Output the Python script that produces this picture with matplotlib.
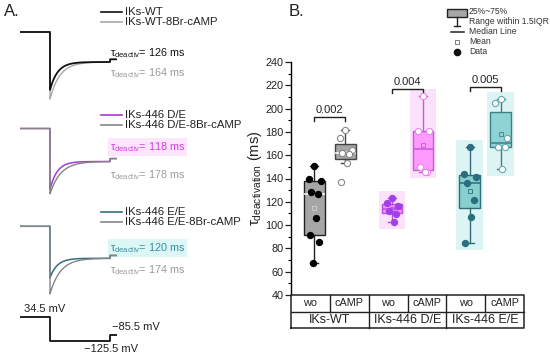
import numpy as np
import matplotlib.pyplot as plt
from matplotlib.patches import Rectangle

### Panel A: tail current traces (normalised), tau values
trace_names = ['IKs-WT', 'IKs-446 D/E', 'IKs-446 E/E']
tau_ctrl = [126, 118, 120]
tau_camp = [164, 178, 174]
peak_ctrl = [0.93, 0.85, 0.61]
peak_camp = [1.23, 0.98, 1.11]
v_steps = [34.5, -125.5, -85.5]
step_ms = [-500, 0, 1000, 1120]

### Panel B: tau deactivation (ms) per cell
groups = ['IKs-WT', 'IKs-446 D/E', 'IKs-446 E/E']
conds = ['wo', 'cAMP']
wt_wo = [151, 140, 138, 128, 127, 106, 91.6, 85.8, 67.3]
wt_camp = [182, 174.7, 164.7, 161.5, 161, 153.2, 136.9]
de_wo = [123, 119, 116, 112, 109.5, 103]
de_camp = [211, 180.4, 180.4, 149.6, 146, 146]
ee_wo = [167, 144, 141.2, 136.2, 121.7, 107.3, 84.5]
ee_camp = [208.3, 204.8, 174.7, 167, 166.7, 148.3]
p_values = ['0.002', '0.004', '0.005']

### colours
c_ctrl = ['#111111', '#a23ad8', '#2f6f80']
c_camp = ['#a8a8a8', '#858585', '#858585']
c_tau_ctrl = ['#111111', '#d23ee0', '#3a8ea0']
c_tau_bg = [None, '#fde6fd', '#dcf6f6']
box_fill = ['#a6a6a6', '#a6a6a6', '#fe8efe', '#fe99fe', '#88cfd0', '#8fd4d4']
box_edge = ['#222222', '#444444', '#b850dc', '#c65ad8', '#336b78', '#3f7f88']
med_col = ['white', 'white', '#b850dc', '#c65ad8', '#336b78', '#3f7f88']
pt_face = ['#000000', 'white', '#a040ea', 'white', '#2a6f7f', 'white']
pt_edge = ['#000000', '#888888', '#a040ea', '#e58ae8', '#2a6f7f', '#6aaab2']
glow = [None, None, '#fbe2fb', '#fbe2fb', '#dcf4f4', '#dcf4f4']

plt.rcParams['font.family'] = ['Liberation Sans', 'DejaVu Sans']
plt.rcParams['mathtext.fontset'] = 'custom'
plt.rcParams['mathtext.rm'] = 'Liberation Sans'
plt.rcParams['mathtext.it'] = 'Liberation Sans:italic'

W, H = 550, 361
fig = plt.figure(figsize=(W / 100, H / 100), dpi=100)


def px_axes(x0, y0, x1, y1):
    # axes from pixel box (y measured from the top)
    return fig.add_axes([x0 / W, 1 - y1 / H, (x1 - x0) / W, (y1 - y0) / H])


### overlay in pixel coordinates for labels
ov = px_axes(0, 0, W, H)
ov.set_xlim(0, W)
ov.set_ylim(H, 0)
ov.axis('off')

### ---- Panel A traces ----
t = np.linspace(step_ms[0], step_ms[3], 3000)
steady_px = [62, 161.5, 258.3]
unit_px = [30, 33, 32]
lo, hi = -1.4, 1.1


def tail(a, tau):
    i = np.where(t < 0, 1.0, -a * np.exp(-np.clip(t, 0, None) / tau))
    i = np.where(t >= step_ms[2], i + 0.09, i)
    return i


for k in range(3):
    y0 = steady_px[k] - hi * unit_px[k]
    y1 = steady_px[k] - lo * unit_px[k]
    ax = px_axes(20, y0, 117.2, y1)
    ax.set_xlim(step_ms[0], step_ms[3])
    ax.set_ylim(lo, hi)
    ax.axis('off')
    if k == 0:
        ax.plot(t, tail(peak_camp[k], tau_camp[k]), color=c_camp[k], lw=1.0)
        ax.plot(t, tail(peak_ctrl[k], tau_ctrl[k]), color=c_ctrl[k], lw=1.3)
    else:
        ax.plot(t, tail(peak_ctrl[k], tau_ctrl[k]), color=c_ctrl[k], lw=1.1)
        ax.plot(t, tail(peak_camp[k], tau_camp[k]), color=c_camp[k], lw=1.0)

    # legend lines
    ly = [12, 115, 212][k]
    ov.plot([101, 122], [ly, ly], color=c_ctrl[k], lw=1.2)
    ov.plot([101, 122], [ly + 10, ly + 10], color=c_camp[k], lw=1.2)
    ov.text(125, ly, trace_names[k], fontsize=8.2, va='center', color='#222222')
    ov.text(125, ly + 10, trace_names[k] + '-8Br-cAMP', fontsize=8.2, va='center', color='#222222')

    # tau labels
    ty = [53, 147, 248][k]
    bb = None
    if c_tau_bg[k]:
        bb = dict(facecolor=c_tau_bg[k], edgecolor='none', pad=1.5)
    ov.text(110, ty, '\u03c4$_{\\mathrm{deactiv}}$= %d ms' % tau_ctrl[k], fontsize=7.8,
            va='center', color=c_tau_ctrl[k], bbox=bb)
    ov.text(110, ty + [20, 28, 22][k], '\u03c4$_{\\mathrm{deactiv}}$= %d ms' % tau_camp[k],
            fontsize=7.8, va='center', color='#9a9a9a')

### voltage protocol
axv = px_axes(20, 300, 117.2, 350)
axv.set_xlim(step_ms[0], step_ms[3])
vmv = 0.152  # px per mV
axv.set_ylim(-125.5 - 9 / vmv, 34.5 + 16.7 / vmv)
axv.axis('off')
vt = [step_ms[0], step_ms[1], step_ms[1], step_ms[2], step_ms[2], step_ms[3]]
vv = [v_steps[0], v_steps[0], v_steps[1], v_steps[1], v_steps[2], v_steps[2]]
axv.plot(vt, vv, color='#111111', lw=1.3)
ov.text(24, 309, '34.5 mV', fontsize=8, va='center', color='#222222')
ov.text(112, 327, '\u221285.5 mV', fontsize=8, va='center', color='#222222')
ov.text(111, 349, '\u2212125.5 mV', fontsize=8, va='center', ha='center', color='#222222')

ov.text(4, 12, 'A.', fontsize=12, va='center', color='#222222')
ov.text(289, 12, 'B.', fontsize=12, va='center', color='#222222')

### ---- Panel B box plot ----
axB = px_axes(291, 62, 524, 295)
axB.patch.set_alpha(0)

data = [wt_wo, wt_camp, de_wo, de_camp, ee_wo, ee_camp]
positions = [0.6, 1.4, 2.6, 3.4, 4.6, 5.4]
jitter = [0.0, -0.14, 0.16, -0.08, 0.1, 0.04, -0.12, 0.13, -0.04]

for i, vals in enumerate(data):
    vals = np.array(vals, dtype=float)
    pos = positions[i]
    if glow[i]:
        axB.add_patch(Rectangle((pos - 0.34, vals.min() - 6), 0.68, vals.max() - vals.min() + 12,
                                facecolor=glow[i], edgecolor='none', zorder=0))
    axB.boxplot([vals], positions=[pos], widths=0.53, whis=1.5, patch_artist=True,
                showfliers=False, showmeans=True, capwidths=0.2, manage_ticks=False,
                boxprops=dict(facecolor=box_fill[i], edgecolor=box_edge[i], linewidth=1),
                medianprops=dict(color=med_col[i], linewidth=1.1),
                whiskerprops=dict(color=box_edge[i], linewidth=1),
                capprops=dict(color=box_edge[i], linewidth=1),
                meanprops=dict(marker='s', markersize=3, markerfacecolor='none',
                               markeredgecolor='#d0d0d0' if i < 2 else box_edge[i],
                               markeredgewidth=0.6))
    offs = np.array(jitter[:len(vals)])
    axB.scatter(pos + offs, vals, s=20, facecolor=pt_face[i], edgecolor=pt_edge[i],
                linewidth=0.8, zorder=4)

axB.set_xlim(0, 6)
axB.set_ylim(40, 240)
for s in ['top', 'right', 'bottom']:
    axB.spines[s].set_visible(False)
axB.spines['left'].set_linewidth(1.0)
axB.set_xticks([])
axB.set_yticks(np.arange(40, 241, 20))
axB.set_yticks(np.arange(40, 241, 10), minor=True)
axB.tick_params(axis='y', which='major', length=4, width=0.9, labelsize=7.8, pad=1.5, colors='#222222')
axB.tick_params(axis='y', which='minor', length=2, width=0.8)
axB.set_ylabel('\u03c4$_{\\mathrm{deactivation}}$ (ms)', fontsize=10.5, labelpad=1, color='#222222')

### significance brackets
br_y = [193, 217, 218.6]
for g in range(3):
    x0, x1 = positions[2 * g], positions[2 * g + 1]
    y = br_y[g]
    axB.plot([x0, x0, x1, x1], [y - 3.5, y, y, y - 3.5], color='#222222', lw=1)
    axB.text((x0 + x1) / 2, y + 1.5, p_values[g], fontsize=8, ha='center', va='bottom',
             color='#222222')

### category table below the axis
axT = px_axes(291, 295, 524, 328)
axT.set_xlim(0, 6)
axT.set_ylim(0, 2)
axT.axis('off')
lc = '#222222'
axT.plot([0, 6, 6, 0, 0], [0, 0, 2, 2, 0], color=lc, lw=1.1, clip_on=False)
axT.plot([0, 6], [1, 1], color=lc, lw=1, clip_on=False)
for xv in [1, 3, 5]:
    axT.plot([xv, xv], [1, 2], color=lc, lw=1, clip_on=False)
for xv in [2, 4]:
    axT.plot([xv, xv], [0, 2], color=lc, lw=1, clip_on=False)
for j in range(6):
    axT.text(j + 0.5, 1.5, conds[j % 2], fontsize=7.8, ha='center', va='center', color='#222222')
for g in range(3):
    axT.text(2 * g + 1, 0.5, groups[g], fontsize=9, ha='center', va='center', color='#222222')

### legend of panel B (drawn in pixels)
ov.add_patch(Rectangle((447, 8.5), 20, 8, facecolor='#a6a6a6', edgecolor='#222222', lw=1))
ov.plot([457, 457], [16.5, 26], color='#222222', lw=1)
ov.plot([454, 460], [26, 26], color='#222222', lw=1)
ov.plot([451, 464], [32, 32], color='#222222', lw=1.1)
ov.plot([457], [42], marker='s', markersize=3, mfc='none', mec='#666666', mew=0.6)
ov.plot([457], [52], marker='o', markersize=4.5, color='#111111')
for txt, yy in zip(['25%~75%', 'Range within 1.5IQR', 'Median Line', 'Mean', 'Data'],
                   [12, 22, 32, 42, 52]):
    ov.text(469, yy, txt, fontsize=6.2, va='center', color='#333333')

fig.savefig('out.png', dpi=100)
